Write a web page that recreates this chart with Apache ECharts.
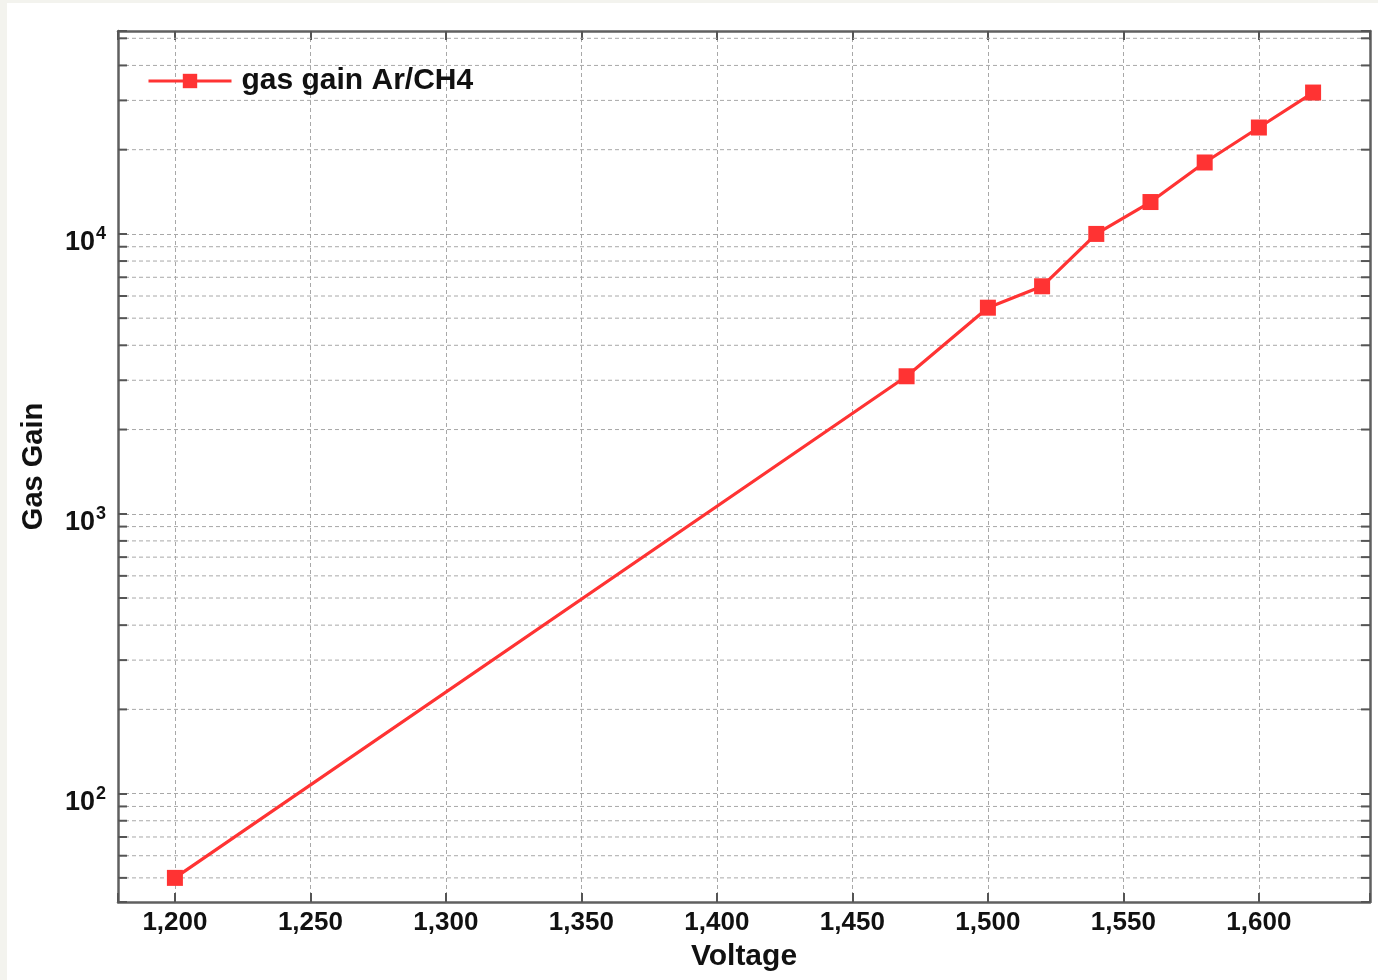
<!DOCTYPE html>
<html><head><meta charset="utf-8">
<script src="https://cdn.jsdelivr.net/npm/echarts@6/dist/echarts.min.js"></script>
<style>
html,body{margin:0;padding:0;background:#f3f3ee;}
#c{position:absolute;left:7px;top:3px;width:1371px;height:977px;background:#fff;}
</style></head><body><div id="c"></div>
<script>
// ---- data ----
const voltages = [1200, 1470, 1500, 1520, 1540, 1560, 1580, 1600, 1620];
const gasGain  = [50, 3100, 5450, 6500, 10000, 13000, 18000, 24000, 32000];
const seriesName = 'gas gain Ar/CH4';
const xAxisTitle = 'Voltage';
const yAxisTitle = 'Gas Gain';
const xTickValues = [1200, 1250, 1300, 1350, 1400, 1450, 1500, 1550, 1600];
const yMinorValues = [50, 60, 70, 80, 90,
  200, 300, 400, 500, 600, 700, 800, 900,
  2000, 3000, 4000, 5000, 6000, 7000, 8000, 9000,
  20000, 30000, 40000, 50000];
const xRange = [1179, 1641];
const yRange = [41, 53100];

const FONT = '"Liberation Sans", Arial, Helvetica, sans-serif';
const AX = '#606060';
const GRID = '#a8a8a8';
const RED = '#ff3333';

const chart = echarts.init(document.getElementById('c'), null, {renderer: 'canvas'});

function isPow10(v) {
  const l = Math.log10(v);
  return Math.abs(l - Math.round(l)) < 1e-6;
}

const commonX = {
  type: 'value', min: xRange[0], max: xRange[1], splitNumber: 9,
  axisLine: {show: true, onZero: false, lineStyle: {color: AX, width: 2.5}},
  axisTick: {show: true, inside: true, length: 9, lineStyle: {color: '#555', width: 2}},
};
const commonY = {
  type: 'log', logBase: 10, min: yRange[0], max: yRange[1],
  axisLine: {show: true, onZero: false, lineStyle: {color: AX, width: 2.5}},
  axisTick: {show: true, inside: true, length: 9, lineStyle: {color: '#555', width: 2}},
};

chart.setOption({
  animation: false,
  backgroundColor: '#ffffff',
  textStyle: {fontFamily: FONT},
  grid: {left: 111, top: 28, right: 8, bottom: 78, containLabel: false},
  legend: {
    data: [seriesName],
    left: 135, top: 58,
    itemWidth: 83, itemHeight: 18,
    itemGap: 0,
    lineStyle: {width: 3},
    textStyle: {fontSize: 30, fontWeight: 'bold', color: '#111', fontFamily: FONT, padding: [0, 0, 0, 5]},
    selectedMode: false
  },
  xAxis: [
    Object.assign({}, commonX, {
      position: 'bottom',
      name: xAxisTitle, nameLocation: 'middle', nameGap: 40,
      nameTextStyle: {fontSize: 30, fontWeight: 'bold', color: '#111', fontFamily: FONT},
      axisLabel: {
        show: true, margin: 8, fontSize: 26, fontWeight: 'bold', color: '#111', fontFamily: FONT,
        formatter: v => (xTickValues.indexOf(v) >= 0 ? v.toLocaleString('en-US') : '')
      },
      splitLine: {show: true, lineStyle: {color: GRID, width: 1, type: [4, 3]}}
    }),
    Object.assign({}, commonX, {
      position: 'top', axisLabel: {show: false}, splitLine: {show: false}
    })
  ],
  yAxis: [
    Object.assign({}, commonY, {
      position: 'left',
      name: yAxisTitle, nameLocation: 'middle', nameGap: 70, nameRotate: 90,
      nameTextStyle: {fontSize: 29, fontWeight: 'bold', color: '#111', fontFamily: FONT},
      axisLabel: {
        show: true, margin: 12,
        formatter: v => isPow10(v) ? '{b|10}{s|' + Math.round(Math.log10(v)) + '}' : '',
        rich: {
          b: {fontSize: 27, fontWeight: 'bold', color: '#111', fontFamily: FONT, lineHeight: 27, padding: [9, 0, 0, 0], verticalAlign: 'top'},
          s: {fontSize: 18, fontWeight: 'bold', color: '#111', fontFamily: FONT, lineHeight: 18, padding: [5, 0, 0, 1], verticalAlign: 'top'}
        }
      },
      splitLine: {show: true, lineStyle: {color: GRID, width: 1, type: [4, 3]}}
    }),
    Object.assign({}, commonY, {
      position: 'right', axisLabel: {show: false}, splitLine: {show: false}
    })
  ],
  series: [
    {
      type: 'custom', silent: true, z: 1, clip: false,
      xAxisIndex: 0, yAxisIndex: 0,
      data: yMinorValues.map(v => [voltages[0], v]),
      encode: {x: 0, y: 1},
      renderItem: function (params, api) {
        const cs = params.coordSys;
        const y = api.coord([api.value(0), api.value(1)])[1];
        return {type: 'group', children: [
          {type: 'line', shape: {x1: cs.x, y1: y, x2: cs.x + cs.width, y2: y}, style: {stroke: GRID, lineWidth: 1, lineDash: [4, 3]}},
          {type: 'line', shape: {x1: cs.x, y1: y, x2: cs.x + 9, y2: y}, style: {stroke: '#555', lineWidth: 2}},
          {type: 'line', shape: {x1: cs.x + cs.width - 9, y1: y, x2: cs.x + cs.width, y2: y}, style: {stroke: '#555', lineWidth: 2}}
        ]};
      }
    },
    {
      name: seriesName, type: 'line', z: 5,
      xAxisIndex: 0, yAxisIndex: 0,
      data: voltages.map((x, i) => [x, gasGain[i]]),
      symbol: 'rect', symbolSize: 16,
      itemStyle: {color: RED},
      lineStyle: {color: RED, width: 3.2}
    }
  ]
});
</script></body></html>
